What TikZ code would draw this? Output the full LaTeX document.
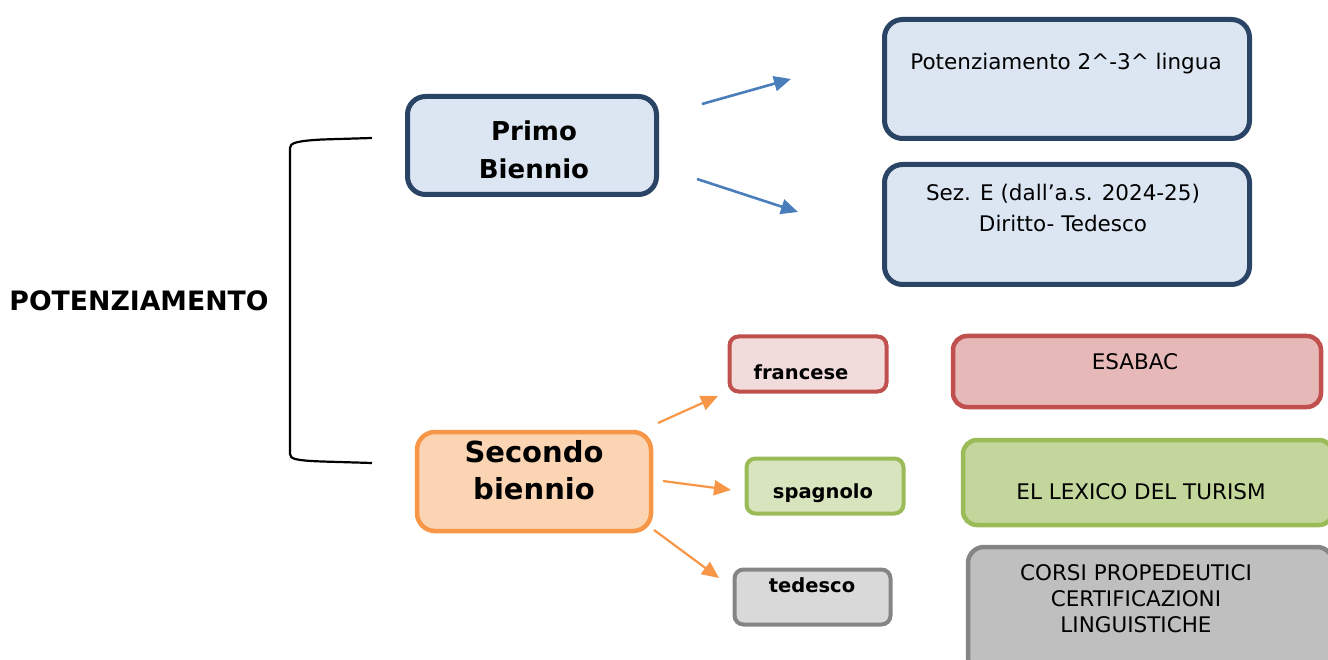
\documentclass[tikz,border=0pt]{standalone}
\usepackage{fontspec}
\setmainfont{DejaVu Sans}
\usetikzlibrary{calc}
\usetikzlibrary{positioning}
\usetikzlibrary{arrows.meta}

\definecolor{navyline}{HTML}{2A4466}
\definecolor{palebluefill}{HTML}{DCE6F2}
\definecolor{arrowblue}{HTML}{4A7EBB}
\definecolor{orangeline}{HTML}{F79646}
\definecolor{orangefill}{HTML}{FBD4B4}
\definecolor{redline}{HTML}{C0504D}
\definecolor{paleredfill}{HTML}{F2DCDB}
\definecolor{redfill}{HTML}{E6B9B8}
\definecolor{greenline}{HTML}{9BBB59}
\definecolor{palegreenfill}{HTML}{D7E4BD}
\definecolor{greenfill}{HTML}{C3D69B}
\definecolor{grayline}{HTML}{858585}
\definecolor{palegrayfill}{HTML}{D9D9D9}
\definecolor{grayfill}{HTML}{BFBFBF}

\begin{document}
\begin{tikzpicture}[x=1pt, y=-1pt,
    rbox/.style={rectangle, rounded corners=18pt, line width=5pt},
    sbox/.style={rectangle, rounded corners=9pt, line width=4pt,
        minimum width=157pt, minimum height=55pt},
    bluebox/.style={rbox, draw=navyline, fill=palebluefill},
    txt/.style={inner sep=0pt, align=center, font=\fontsize{21.5}{31}\selectfont},
    boldtxt/.style={inner sep=0pt, align=center, font=\bfseries\fontsize{19.5}{24}\selectfont},
    bluearrow/.style={draw=arrowblue, line width=2.6pt, -{Triangle[length=17pt,width=15pt]}},
    orangearrow/.style={draw=orangeline, line width=2.2pt, -{Triangle[length=17pt,width=15pt]}}]
    \clip (0,0) rectangle (1328,660);

    % titolo e parentesi
    \node[inner sep=0pt, font=\bfseries\fontsize{26.7}{30}\selectfont] (title) at (139,301) {POTENZIAMENTO};
    \coordinate (brtop) at (372,138);
    \coordinate (brbot) at (372,463);
    \draw[line width=2.2pt] (brtop) -- (322,139.5) .. controls (296,141) and (290,143) .. (290,148)
        -- (290,454) .. controls (290,459) and (296,460.5) .. (322,461.5) -- (brbot);

    % primo biennio
    \node[bluebox, minimum width=249pt, minimum height=98pt] (primo) at (532,145.5) {};
    \node[inner sep=0pt, align=center, font=\bfseries\fontsize{26}{38}\selectfont] (primotxt) at (534,150) {Primo\\Biennio};
    \node[bluebox, minimum width=365pt, minimum height=119pt] (lingua) at (1067,79) {};
    \node[txt] (linguatxt) at (1066,64) {Potenziamento 2\textasciicircum-3\textasciicircum{} lingua};
    \node[bluebox, minimum width=365pt, minimum height=120pt] (sez) at (1067,224.5) {};
    \node[txt] (seztxt) at (1063,208) {Sez. E (dall’a.s. 2024-25)\\Diritto- Tedesco};

    \coordinate (b1s) at (702,104);
    \coordinate (b1e) at (791,79);
    \coordinate (b2s) at (697,179);
    \coordinate (b2e) at (798,212);
    \draw[bluearrow] (b1s) -- (b1e);
    \draw[bluearrow] (b2s) -- (b2e);

    % secondo biennio
    \node[rbox, draw=orangeline, fill=orangefill, line width=4.5pt, minimum width=234pt, minimum height=99pt] (secondo) at (534,481.5) {};
    \node[inner sep=0pt, align=center, font=\bfseries\fontsize{29}{37}\selectfont] (secondotxt) at (534,470) {Secondo\\biennio};

    \node[sbox, draw=redline, fill=paleredfill] (francese) at (808,364) {};
    \node[boldtxt] (francesetxt) at (801,372) {francese};
    \node[sbox, draw=greenline, fill=palegreenfill] (spagnolo) at (825,486) {};
    \node[boldtxt] (spagnolotxt) at (823,493) {spagnolo};
    \node[sbox, draw=grayline, fill=palegrayfill, minimum width=156pt] (tedesco) at (812.5,597) {};
    \node[boldtxt] (tedescotxt) at (812,585) {tedesco};

    \coordinate (o1s) at (658,423);
    \coordinate (o1e) at (718,396);
    \coordinate (o2s) at (663,481);
    \coordinate (o2e) at (731,490);
    \coordinate (o3s) at (654,530);
    \coordinate (o3e) at (719,578);
    \draw[orangearrow] (o1s) -- (o1e);
    \draw[orangearrow] (o2s) -- (o2e);
    \draw[orangearrow] (o3s) -- (o3e);

    \node[rbox, rounded corners=14pt, draw=redline, fill=redfill, line width=4.5pt, minimum width=368pt, minimum height=71pt] (esabac) at (1137,371.5) {};
    \node[txt] (esabactxt) at (1135,362) {ESABAC};
    \node[rbox, rounded corners=14pt, draw=greenline, fill=greenfill, line width=4.5pt, minimum width=370pt, minimum height=85pt] (lexico) at (1148,482.5) {};
    \node[txt] (lexicotxt) at (1141,492) {EL LEXICO DEL TURISM};
    \node[rbox, rounded corners=16pt, draw=grayline, fill=grayfill, line width=4.5pt, minimum width=365pt, minimum height=126pt] (corsi) at (1150.5,610) {};
    \node[txt, font=\fontsize{21.5}{26}\selectfont] (corsitxt) at (1136,599) {CORSI PROPEDEUTICI\\CERTIFICAZIONI\\LINGUISTICHE};
\end{tikzpicture}
\end{document}
